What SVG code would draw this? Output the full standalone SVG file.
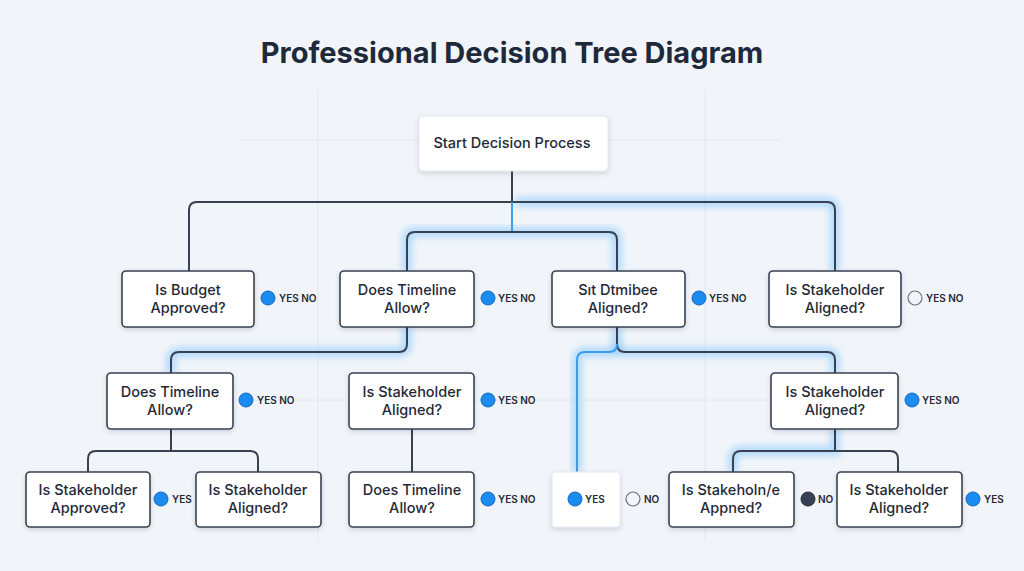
<svg xmlns="http://www.w3.org/2000/svg" width="1024" height="571" viewBox="0 0 1024 571">
<defs>
<filter id="shadow" x="-20%" y="-20%" width="140%" height="160%"><feDropShadow dx="0" dy="2" stdDeviation="2.5" flood-color="#0f172a" flood-opacity="0.15"/></filter>
<filter id="glow" x="-20%" y="-20%" width="140%" height="140%"><feGaussianBlur stdDeviation="3.5"/></filter>
<style>
.bg{fill:#f1f5f9}
.grid{stroke:#e2e8f0;stroke-width:1}
.node{fill:#ffffff;stroke:#374151;stroke-width:1.6}
.soft{fill:#ffffff;stroke:#e2e8f0;stroke-width:1}
.t{font-family:Inter,"Liberation Sans",sans-serif;font-size:14.5px;font-weight:500;fill:#1f2937;text-anchor:middle}
.lbl{font-family:Inter,"Liberation Sans",sans-serif;font-size:10px;font-weight:600;fill:#1f2937}
.title{font-family:Inter,"Liberation Sans",sans-serif;font-size:29px;font-weight:700;fill:#1e293b;text-anchor:middle}
.yes{fill:#1a8cf0;stroke:#1565c0;stroke-width:1}
.hollow{fill:#f1f5f9;stroke:#6b7280;stroke-width:1.2}
.dark{fill:#374151;stroke:#1f2937;stroke-width:1}
.c{fill:none;stroke:#374151;stroke-width:2}
.cb{fill:none;stroke:#3b9cf0;stroke-width:2}
.g{fill:none;stroke:#7cc2ff;stroke-width:10;stroke-opacity:0.55;filter:url(#glow)}
</style>
</defs>
<rect class="bg" x="0" y="0" width="1024" height="571"/>
<g id="grid">
<line class="grid" x1="318" y1="90" x2="318" y2="540"/>
<line class="grid" x1="705" y1="90" x2="705" y2="540"/>
<line class="grid" x1="240" y1="140" x2="780" y2="140"/>
<line class="grid" x1="240" y1="400" x2="780" y2="400"/>
</g>
<text class="title" x="512" y="63">Professional Decision Tree Diagram</text>
<g id="connectors">
<g id="glows">
<path class="g" d="M516,171 V232"/>
<path class="g" d="M407,271 V240 Q407,232 415,232 H609 Q617,232 617,240 V271"/>
<path class="g" d="M516,202 H827 Q835,202 835,210 V271"/>
<path class="g" d="M407,327 V344 Q407,352 399,352 H179 Q171,352 171,360 V373"/>
<path class="g" d="M617,327 V344 Q617,352 625,352 H827 Q835,352 835,360 V373"/>
<path class="g" d="M617,344 Q617,352 609,352 H585 Q577,352 577,360 V472"/>
<path class="g" d="M835,429 V451 H741 Q733,451 733,459 V472"/>
</g>
<path class="c" d="M512,171 V202"/>
<path class="c" d="M189,271 V210 Q189,202 197,202 H827 Q835,202 835,210 V271"/>
<path class="cb" d="M512,202 V232"/>
<path class="c" d="M407,271 V240 Q407,232 415,232 H609 Q617,232 617,240 V271"/>
<path class="c" d="M407,327 V344 Q407,352 399,352 H179 Q171,352 171,360 V373"/>
<path class="c" d="M617,327 V344 Q617,352 625,352 H827 Q835,352 835,360 V373"/>
<path class="cb" d="M617,344 Q617,352 609,352 H585 Q577,352 577,360 V472"/>
<path class="c" d="M171,429 V451"/>
<path class="c" d="M88,472 V459 Q88,451 96,451 H250 Q258,451 258,459 V472"/>
<path class="c" d="M412,429 V472"/>
<path class="c" d="M835,429 V451"/>
<path class="c" d="M733,472 V459 Q733,451 741,451 H890 Q898,451 898,459 V472"/>
</g>
<g id="start">
<rect class="soft" x="419" y="116" width="189" height="55" rx="4" filter="url(#shadow)"/>
<text class="t" x="512" y="148">Start Decision Process</text>
</g>
<g id="n1">
<rect class="node" x="122" y="271" width="132" height="56" rx="4" filter="url(#shadow)"/>
<text class="t" x="188" y="295">Is Budget</text><text class="t" x="188" y="313">Approved?</text>
<circle class="yes" cx="268" cy="298" r="7"/><text class="lbl" x="279" y="302">YES NO</text>
</g>
<g id="n2">
<rect class="node" x="340" y="271" width="134" height="56" rx="4" filter="url(#shadow)"/>
<text class="t" x="407" y="295">Does Timeline</text><text class="t" x="407" y="313">Allow?</text>
<circle class="yes" cx="488" cy="298" r="7"/><text class="lbl" x="498" y="302">YES NO</text>
</g>
<g id="n3">
<rect class="node" x="552" y="271" width="133" height="56" rx="4" filter="url(#shadow)"/>
<text class="t" x="618" y="295">Sıt Dtmibee</text><text class="t" x="618" y="313">Aligned?</text>
<circle class="yes" cx="699" cy="298" r="7"/><text class="lbl" x="709" y="302">YES NO</text>
</g>
<g id="n4">
<rect class="node" x="769" y="271" width="132" height="56" rx="4" filter="url(#shadow)"/>
<text class="t" x="835" y="295">Is Stakeholder</text><text class="t" x="835" y="313">Aligned?</text>
<circle class="hollow" cx="915" cy="298" r="7"/><text class="lbl" x="926" y="302">YES NO</text>
</g>
<g id="n5">
<rect class="node" x="107" y="373" width="126" height="56" rx="4" filter="url(#shadow)"/>
<text class="t" x="170" y="397">Does Timeline</text><text class="t" x="170" y="415">Allow?</text>
<circle class="yes" cx="246" cy="400" r="7"/><text class="lbl" x="257" y="404">YES NO</text>
</g>
<g id="n6">
<rect class="node" x="349" y="373" width="125" height="56" rx="4" filter="url(#shadow)"/>
<text class="t" x="412" y="397">Is Stakeholder</text><text class="t" x="412" y="415">Aligned?</text>
<circle class="yes" cx="488" cy="400" r="7"/><text class="lbl" x="498" y="404">YES NO</text>
</g>
<g id="n7">
<rect class="node" x="771" y="373" width="127" height="56" rx="4" filter="url(#shadow)"/>
<text class="t" x="835" y="397">Is Stakeholder</text><text class="t" x="835" y="415">Aligned?</text>
<circle class="yes" cx="912" cy="400" r="7"/><text class="lbl" x="922" y="404">YES NO</text>
</g>
<g id="n8">
<rect class="node" x="26" y="472" width="124" height="55" rx="4" filter="url(#shadow)"/>
<text class="t" x="88" y="495">Is Stakeholder</text><text class="t" x="88" y="513">Approved?</text>
<circle class="yes" cx="161" cy="499" r="7"/><text class="lbl" x="172" y="503">YES</text>
</g>
<g id="n9">
<rect class="node" x="196" y="472" width="125" height="55" rx="4" filter="url(#shadow)"/>
<text class="t" x="258" y="495">Is Stakeholder</text><text class="t" x="258" y="513">Aligned?</text>
</g>
<g id="n10">
<rect class="node" x="349" y="472" width="125" height="55" rx="4" filter="url(#shadow)"/>
<text class="t" x="412" y="495">Does Timeline</text><text class="t" x="412" y="513">Allow?</text>
<circle class="yes" cx="488" cy="499" r="7"/><text class="lbl" x="498" y="503">YES NO</text>
</g>
<g id="n11">
<rect class="soft" x="552" y="472" width="68" height="55" rx="3" filter="url(#shadow)"/>
<circle class="yes" cx="575" cy="499" r="7"/><text class="lbl" x="585" y="503">YES</text>
<circle class="hollow" cx="633" cy="499" r="7"/><text class="lbl" x="644" y="503">NO</text>
</g>
<g id="n12">
<rect class="node" x="669" y="472" width="125" height="55" rx="4" filter="url(#shadow)"/>
<text class="t" x="731" y="495">Is Stakeholn/e</text><text class="t" x="731" y="513">Appned?</text>
<circle class="dark" cx="808" cy="499" r="7"/><text class="lbl" x="818" y="503">NO</text>
</g>
<g id="n13">
<rect class="node" x="837" y="472" width="125" height="55" rx="4" filter="url(#shadow)"/>
<text class="t" x="899" y="495">Is Stakeholder</text><text class="t" x="899" y="513">Aligned?</text>
<circle class="yes" cx="973" cy="499" r="7"/><text class="lbl" x="984" y="503">YES</text>
</g>
</svg>
